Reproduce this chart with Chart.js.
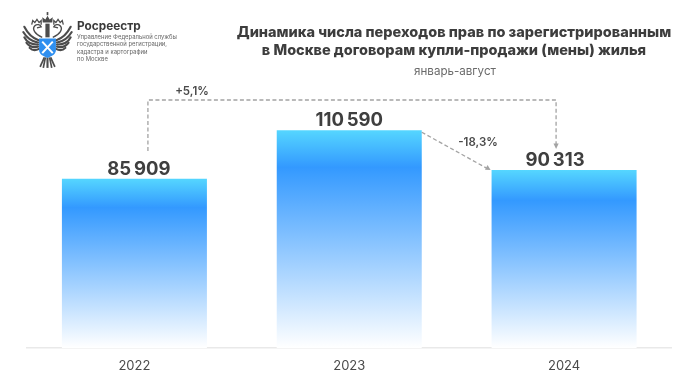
<!DOCTYPE html>
<html lang="ru">
<head>
<meta charset="utf-8">
<title>Росреестр</title>
<script src="https://cdn.jsdelivr.net/npm/chart.js@4"></script>
<style>
  html, body { margin: 0; padding: 0; background: #fff; }
  #wrap { position: relative; width: 698px; height: 392px; overflow: hidden; font-family: Inter, sans-serif; color: #3f3f3f; }
  #chart { position: absolute; left: 0; top: 0; }
  #title { position: absolute; left: 209px; width: 490px; top: 23px; text-align: center; font-size: 14.5px; line-height: 17.5px; font-weight: 800; color: #3d3d3d; white-space: nowrap; }
  #subtitle { position: absolute; left: 210px; width: 490px; top: 64px; text-align: center; font-size: 11.6px; line-height: 14px; color: #6a6a6a; }
  #brand { position: absolute; left: 77px; top: 18px; font-size: 11.8px; line-height: 16px; font-weight: 700; color: #3a3a3a; }
  #org { position: absolute; left: 77px; top: 33px; font-size: 5.9px; line-height: 7.3px; color: #666; white-space: nowrap; }
  #logo { position: absolute; left: 19px; top: 11px; }
</style>
</head>
<body>
<div id="wrap">
  <canvas id="chart" width="698" height="392"></canvas>
  <svg id="logo" width="57" height="59" viewBox="0 0 54 56">
    <defs>
      <g id="half" fill="none" stroke="#4c4c4c">
        <g stroke-width="2" stroke-linecap="round">
          <path d="M19 28 C13 26 8 21 5 15"/>
          <path d="M18 30 C12 29 7 25 4 20"/>
          <path d="M18 32 C12 32 7 29 5 25"/>
          <path d="M18 34 C13 35 9 33 7 30"/>
          <path d="M19 36 C15 38 12 37 10 35"/>
        </g>
        <path d="M22 25 C15 22 12 17 15 14 C17 12 20 13 21 15 L17 16" stroke-width="1.3"/>
        <path d="M12 13 L13 9 L15 11 L17 8 L19 11 L21 9 L21 13" stroke-width="1.2"/>
        <g stroke-width="1.6">
          <path d="M24 44 L20 53"/>
          <path d="M25 44 L23 54"/>
        </g>
      </g>
    </defs>
    <use href="#half"/>
    <use href="#half" transform="translate(54 0) scale(-1 1)"/>
    <g fill="#4c4c4c">
      <path d="M26.2 1 H27.8 V4 H26.2 Z"/>
      <path d="M22.5 11 L22 6 L25 8 L27 4.5 L29 8 L32 6 L31.5 11 Z"/>
      <path d="M25 12 H29 V25 H25 Z"/>
      <path d="M26 44 H28 V54 H26 Z"/>
    </g>
    <path d="M19 26 H35 V37 C35 41 31 43 27 44.5 C23 43 19 41 19 37 Z" fill="#2f8fef"/>
    <path d="M22 29 L32 40 M32 29 L22 40" stroke="#fff" stroke-width="1.9"/>
  </svg>
  <div id="brand">Росреестр</div>
  <div id="org">Управление Федеральной службы<br>государственной регистрации,<br>кадастра и картографии<br>по Москве</div>
  <div id="title">Динамика числа переходов прав по зарегистрированным<br>в Москве договорам купли-продажи (мены) жилья</div>
  <div id="subtitle">январь-август</div>
</div>
<script>
const years = ['2022', '2023', '2024'];
const deals = [85909, 110590, 90313];
const dealLabels = ['85 909', '110 590', '90 313'];
const changeTotal = '+5,1%';
const changeLast = '-18,3%';

/* Подписи значений и стрелки */
const labelsPlugin = {
  id: 'labelsPlugin',
  afterDatasetsDraw(chart) {
    const ctx = chart.ctx;
    const bars = chart.getDatasetMeta(0).data;
    const greyLine = '#a3a3a3';
    const labelShift = [4.5, 0, -9];

    ctx.save();
    ctx.textAlign = 'center';
    ctx.textBaseline = 'alphabetic';
    ctx.fillStyle = '#3f3f3f';
    ctx.font = '700 18.5px Inter';
    ctx.wordSpacing = '-1.5px';
    bars.forEach((bar, i) => ctx.fillText(dealLabels[i], bar.x + labelShift[i], bar.y - 4));
    ctx.wordSpacing = '0px';

    ctx.strokeStyle = greyLine;
    ctx.fillStyle = greyLine;
    ctx.lineWidth = 1.3;
    ctx.setLineDash([4, 2.5]);

    // 2022 -> 2024
    const x1 = bars[0].x + 13.5;
    const x2 = bars[2].x - 8;
    const topY = 100;
    const endY = bars[2].y - 23;
    ctx.beginPath();
    ctx.moveTo(x1, 151);
    ctx.lineTo(x1, topY);
    ctx.lineTo(x2, topY);
    ctx.lineTo(x2, endY - 3);
    ctx.stroke();

    // 2023 -> 2024
    const w = bars[1].width / 2;
    const sx = bars[1].x + w;
    const sy = bars[1].y + 2;
    const ex = bars[2].x - bars[2].width / 2 - 1;
    const ey = bars[2].y;
    ctx.beginPath();
    ctx.moveTo(sx, sy);
    ctx.lineTo(ex - 4, ey - 2);
    ctx.stroke();

    ctx.setLineDash([]);
    ctx.beginPath();
    ctx.moveTo(x2, endY + 2);
    ctx.lineTo(x2 - 2.6, endY - 3.5);
    ctx.lineTo(x2 + 2.6, endY - 3.5);
    ctx.closePath();
    ctx.fill();
    ctx.beginPath();
    ctx.moveTo(ex, ey);
    ctx.lineTo(ex - 5.6, ey - 0.4);
    ctx.lineTo(ex - 3, ey - 5);
    ctx.closePath();
    ctx.fill();

    ctx.fillStyle = '#4a4a4a';
    ctx.font = '600 11.5px Inter';
    ctx.fillText(changeTotal, 192, 95);
    ctx.fillText(changeLast, 478, 146);
    ctx.restore();
  },
};

new Chart(document.getElementById('chart'), {
  type: 'bar',
  plugins: [labelsPlugin],
  data: {
    labels: years,
    datasets: [
      {
        data: deals,
        barPercentage: 1,
        categoryPercentage: 0.675,
        backgroundColor: function (context) {
          const el = context.element;
          const area = context.chart.chartArea;
          if (!area || !el) return '#3399ff';
          const top = context.chart.scales.y.getPixelForValue(context.raw);
          const base = context.chart.scales.y.getPixelForValue(0);
          const g = context.chart.ctx.createLinearGradient(0, top, 0, base);
          g.addColorStop(0, '#55d6ff');
          g.addColorStop(0.17, '#3399ff');
          g.addColorStop(1, '#ffffff');
          return g;
        },
      },
    ],
  },
  options: {
    responsive: false,
    animation: false,
    layout: { padding: { left: 27, right: 26.5, top: 92, bottom: 16.5 } },
    plugins: { legend: { display: false }, tooltip: { enabled: false } },
    scales: {
      x: {
        grid: { display: false },
        border: { color: '#e9e9e9', width: 1.5 },
        ticks: { color: '#4a4a4a', font: { family: 'Inter', size: 13 }, padding: 2 },
      },
      y: { display: false, min: 0, max: 130000 },
    },
  },
});
</script>
</body>
</html>
